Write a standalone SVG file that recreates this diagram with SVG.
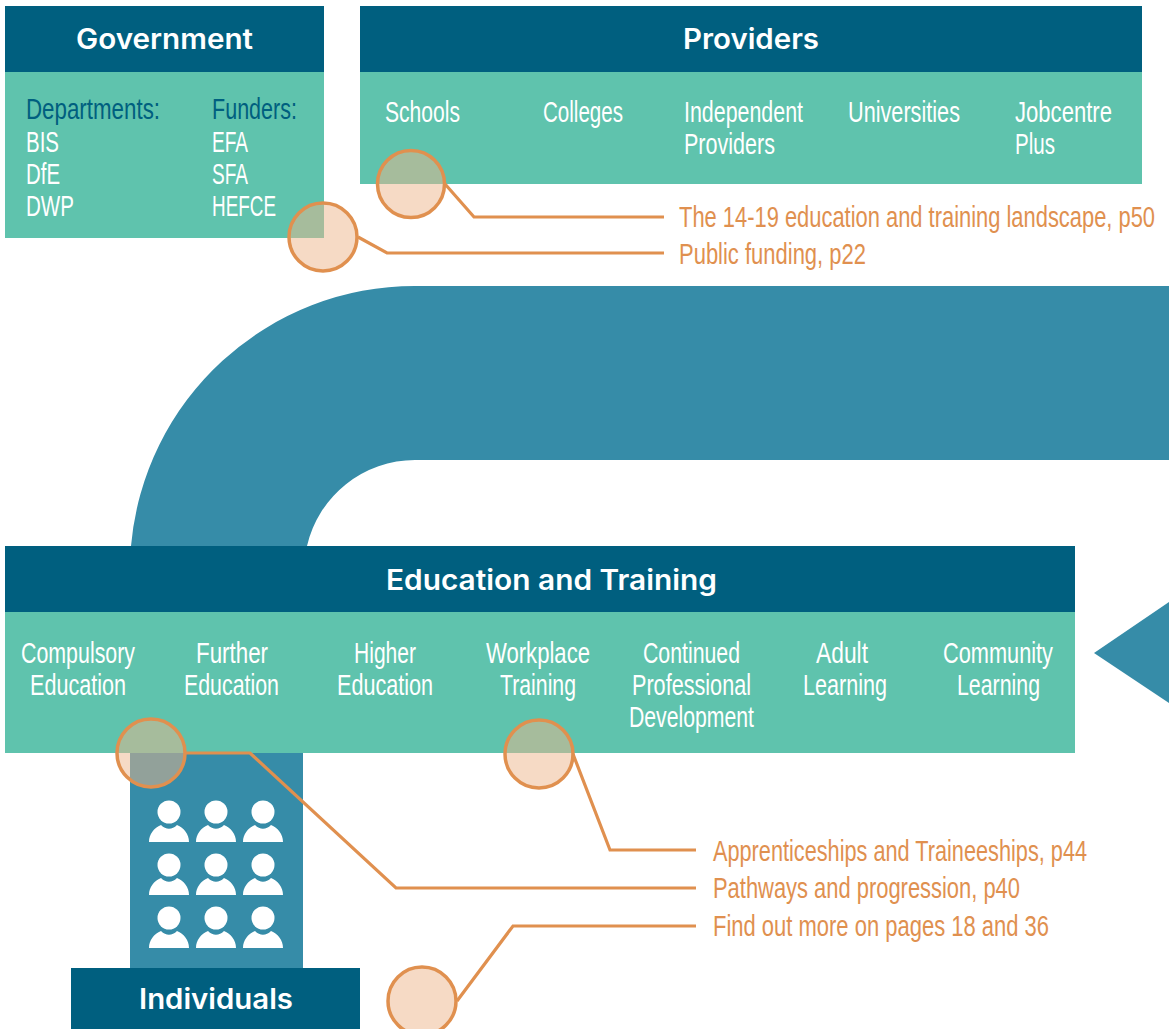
<svg xmlns="http://www.w3.org/2000/svg" width="1169" height="1029" viewBox="0 0 1169 1029">
<style>
.hd{fill:#005f7f}.bd{fill:#5fc3ad}.bl{fill:#368ca8}
.h{font-family:Inter,"Liberation Sans",sans-serif;font-weight:600;font-size:28px;fill:#fff}
.t{font-family:"Liberation Sans Narrow","Liberation Sans",sans-serif;font-size:30px;fill:#fff}
.d{fill:#005f7f}
.o{font-family:"Liberation Sans Narrow","Liberation Sans",sans-serif;font-size:29px;fill:#e0904f}
.c{fill:#edb58b;fill-opacity:.5;stroke:#e0904f;stroke-width:3.5}
.l{fill:none;stroke:#e0904f;stroke-width:3.2}
.p{fill:#fff}
</style>
<defs>
<g id="person"><circle cx="0" cy="0" r="11.5" class="p"/><path class="p" d="M-20 30C-20 22-15 16-8 13C-3 18 3 18 8 13C15 16 20 22 20 30Z"/></g>
</defs>
<g id="flow">
<path class="bl" d="M131 546A285 285 0 0 1 415 286H1169V460H415A111 111 0 0 0 307 546Z"/>
<path class="bl" d="M1094 653L1169 602V703Z"/>
</g>
<g id="government">
<rect class="hd" x="5" y="6" width="319" height="66"/><rect class="bd" x="5" y="72" width="319" height="166"/>
<text class="h" x="76" y="49" textLength="177" lengthAdjust="spacingAndGlyphs">Government</text>
<text class="t d" x="26" y="119" textLength="134" lengthAdjust="spacingAndGlyphs">Departments:</text>
<text class="t" x="26" y="151.500" textLength="33" lengthAdjust="spacingAndGlyphs">BIS</text>
<text class="t" x="26" y="183.500" textLength="34" lengthAdjust="spacingAndGlyphs">DfE</text>
<text class="t" x="26" y="215.500" textLength="48" lengthAdjust="spacingAndGlyphs">DWP</text>
<text class="t d" x="212" y="119" textLength="85" lengthAdjust="spacingAndGlyphs">Funders:</text>
<text class="t" x="212" y="151.500" textLength="36" lengthAdjust="spacingAndGlyphs">EFA</text>
<text class="t" x="212" y="183.500" textLength="36" lengthAdjust="spacingAndGlyphs">SFA</text>
<text class="t" x="212" y="215.500" textLength="64" lengthAdjust="spacingAndGlyphs">HEFCE</text>
</g>
<g id="providers">
<rect class="hd" x="360" y="6" width="782" height="66"/><rect class="bd" x="360" y="72" width="782" height="112"/>
<text class="h" x="683" y="49" textLength="136" lengthAdjust="spacingAndGlyphs">Providers</text>
<text class="t" x="385" y="121.500" textLength="75" lengthAdjust="spacingAndGlyphs">Schools</text>
<text class="t" x="543" y="121.500" textLength="80" lengthAdjust="spacingAndGlyphs">Colleges</text>
<text class="t" x="684" y="121.500" textLength="119" lengthAdjust="spacingAndGlyphs">Independent</text>
<text class="t" x="684" y="153.500" textLength="91" lengthAdjust="spacingAndGlyphs">Providers</text>
<text class="t" x="848" y="121.500" textLength="112" lengthAdjust="spacingAndGlyphs">Universities</text>
<text class="t" x="1015" y="121.500" textLength="97" lengthAdjust="spacingAndGlyphs">Jobcentre</text>
<text class="t" x="1015" y="153.500" textLength="40" lengthAdjust="spacingAndGlyphs">Plus</text>
</g>
<g id="individuals-column">
<rect class="bl" x="130" y="753" width="173" height="215"/>
<use href="#person" x="169" y="812"/><use href="#person" x="216" y="812"/><use href="#person" x="263" y="812"/>
<use href="#person" x="169" y="865"/><use href="#person" x="216" y="865"/><use href="#person" x="263" y="865"/>
<use href="#person" x="169" y="918"/><use href="#person" x="216" y="918"/><use href="#person" x="263" y="918"/>
</g>
<g id="individuals">
<rect class="hd" x="71" y="968" width="289" height="61"/>
<text class="h" x="139" y="1009" textLength="154" lengthAdjust="spacingAndGlyphs">Individuals</text>
</g>
<g id="education">
<rect class="hd" x="5" y="546" width="1070" height="66"/><rect class="bd" x="5" y="612" width="1070" height="141"/>
<text class="h" x="386" y="590" textLength="331" lengthAdjust="spacingAndGlyphs">Education and Training</text>
<text class="t" x="21" y="662.500" textLength="114" lengthAdjust="spacingAndGlyphs">Compulsory</text>
<text class="t" x="30" y="694.500" textLength="96" lengthAdjust="spacingAndGlyphs">Education</text>
<text class="t" x="196" y="662.500" textLength="72" lengthAdjust="spacingAndGlyphs">Further</text>
<text class="t" x="184" y="694.500" textLength="95" lengthAdjust="spacingAndGlyphs">Education</text>
<text class="t" x="354" y="662.500" textLength="62" lengthAdjust="spacingAndGlyphs">Higher</text>
<text class="t" x="337" y="694.500" textLength="96" lengthAdjust="spacingAndGlyphs">Education</text>
<text class="t" x="486" y="662.500" textLength="104" lengthAdjust="spacingAndGlyphs">Workplace</text>
<text class="t" x="500" y="694.500" textLength="76" lengthAdjust="spacingAndGlyphs">Training</text>
<text class="t" x="643" y="662.500" textLength="97" lengthAdjust="spacingAndGlyphs">Continued</text>
<text class="t" x="632" y="694.500" textLength="119" lengthAdjust="spacingAndGlyphs">Professional</text>
<text class="t" x="629" y="726.500" textLength="125" lengthAdjust="spacingAndGlyphs">Development</text>
<text class="t" x="816" y="662.500" textLength="52" lengthAdjust="spacingAndGlyphs">Adult</text>
<text class="t" x="803" y="694.500" textLength="84" lengthAdjust="spacingAndGlyphs">Learning</text>
<text class="t" x="943" y="662.500" textLength="110" lengthAdjust="spacingAndGlyphs">Community</text>
<text class="t" x="957" y="694.500" textLength="83" lengthAdjust="spacingAndGlyphs">Learning</text>
</g>
<g id="connectors">
<path class="l" d="M445 184L474 217H664"/>
<path class="l" d="M358 237L387 253H664"/>
<path class="l" d="M186 753H250L396 888H696"/>
<path class="l" d="M573 754L610 850H696"/>
<path class="l" d="M457 1001L513 926H696"/>
</g>
<g id="callouts">
<circle class="c" cx="411" cy="184" r="33.500"/>
<circle class="c" cx="323" cy="237" r="34"/>
<circle class="c" cx="151" cy="753" r="34"/>
<circle class="c" cx="539" cy="754" r="34"/>
<circle class="c" cx="422" cy="1001" r="34"/>
</g>
<g id="labels">
<text class="o" transform="translate(679 227) scale(.75 1)" textLength="634.700" lengthAdjust="spacingAndGlyphs">The 14-19 education and training landscape, p50</text>
<text class="o" transform="translate(679 264) scale(.75 1)" textLength="249.300" lengthAdjust="spacingAndGlyphs">Public funding, p22</text>
<text class="o" transform="translate(713 861) scale(.75 1)" textLength="498.700" lengthAdjust="spacingAndGlyphs">Apprenticeships and Traineeships, p44</text>
<text class="o" transform="translate(713 898) scale(.75 1)" textLength="409.300" lengthAdjust="spacingAndGlyphs">Pathways and progression, p40</text>
<text class="o" transform="translate(713 936) scale(.75 1)" textLength="448" lengthAdjust="spacingAndGlyphs">Find out more on pages 18 and 36</text>
</g>
</svg>
